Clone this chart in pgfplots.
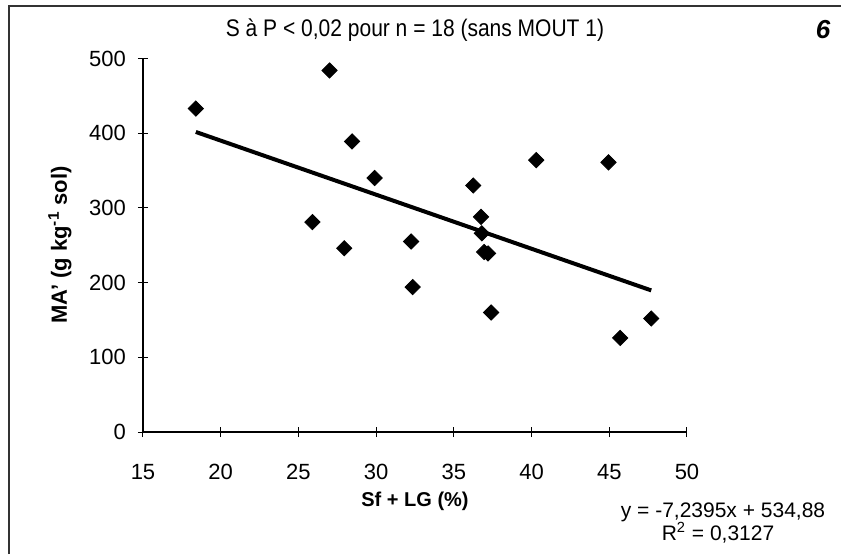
\documentclass[border=0pt]{standalone}
\usepackage{fontspec}
\setmainfont{Liberation Sans}
\usepackage{graphicx}
\usepackage{pgfplots}
\pgfplotsset{compat=1.18}
\begin{document}
\begin{tikzpicture}
\path[use as bounding box] (0,0) rectangle (420.5pt,277pt);
% frame of the chart area (top and left edges)
\draw[line width=0.6pt, black!80] (4.5pt,0) -- (4.5pt,274pt) -- (420.5pt,274pt);
\begin{axis}[
  at={(71.5pt,61pt)}, anchor=south west,
  scale only axis, width=272pt, height=186.75pt,
  xmin=15, xmax=50, ymin=0, ymax=500,
  xtick={15,20,...,50}, ytick={0,100,...,500},
  axis lines=left, axis line style={-, line width=0.6pt},
  tick align=center, major tick length=5pt,
  tick style={line width=0.5pt, black},
  /pgf/number format/assume math mode=true,
  ticklabel style={font=\fontsize{11}{13}\selectfont},
  xticklabel style={yshift=-10pt},
  yticklabel style={xshift=-2.5pt},
  clip=false,
]
\addplot[only marks, mark=square*, mark size=2.7pt, mark options={rotate=45, fill=black, draw=black}] coordinates {
(18.4,433) (27.0,484) (28.45,389) (29.9,340) (25.9,281) (27.95,246)
(32.25,255) (32.35,194) (36.25,330) (36.75,288) (36.8,266) (36.95,241)
(37.2,239) (40.3,364) (44.95,361) (37.4,160) (45.7,126) (47.7,152)
};
\addplot[line width=2pt, black] coordinates {(18.4,401.67) (47.7,189.56)};
\end{axis}
\node[font=\fontsize{12}{14}\selectfont] at (207.5pt,262pt) {\scalebox{0.875}[1]{S à P < 0,02 pour n = 18 (sans MOUT 1)}};
\node[font=\fontsize{13}{15}\selectfont\bfseries\itshape] at (411.5pt,262pt) {6};
\node[font=\fontsize{11}{13}\selectfont\bfseries, rotate=90] at (30pt,154.5pt) {MA' (g kg\textsuperscript{-1} sol)};
\node[font=\fontsize{10}{12}\selectfont\bfseries] at (207.5pt,26.5pt) {Sf + LG (\%)};
\node[font=\fontsize{10.5}{12}\selectfont] at (361.5pt,21pt) {y = -7,2395x + 534,88};
\node[font=\fontsize{10.5}{12}\selectfont] at (359pt,10.5pt) {R\textsuperscript{2} = 0,3127};
\end{tikzpicture}
\end{document}
